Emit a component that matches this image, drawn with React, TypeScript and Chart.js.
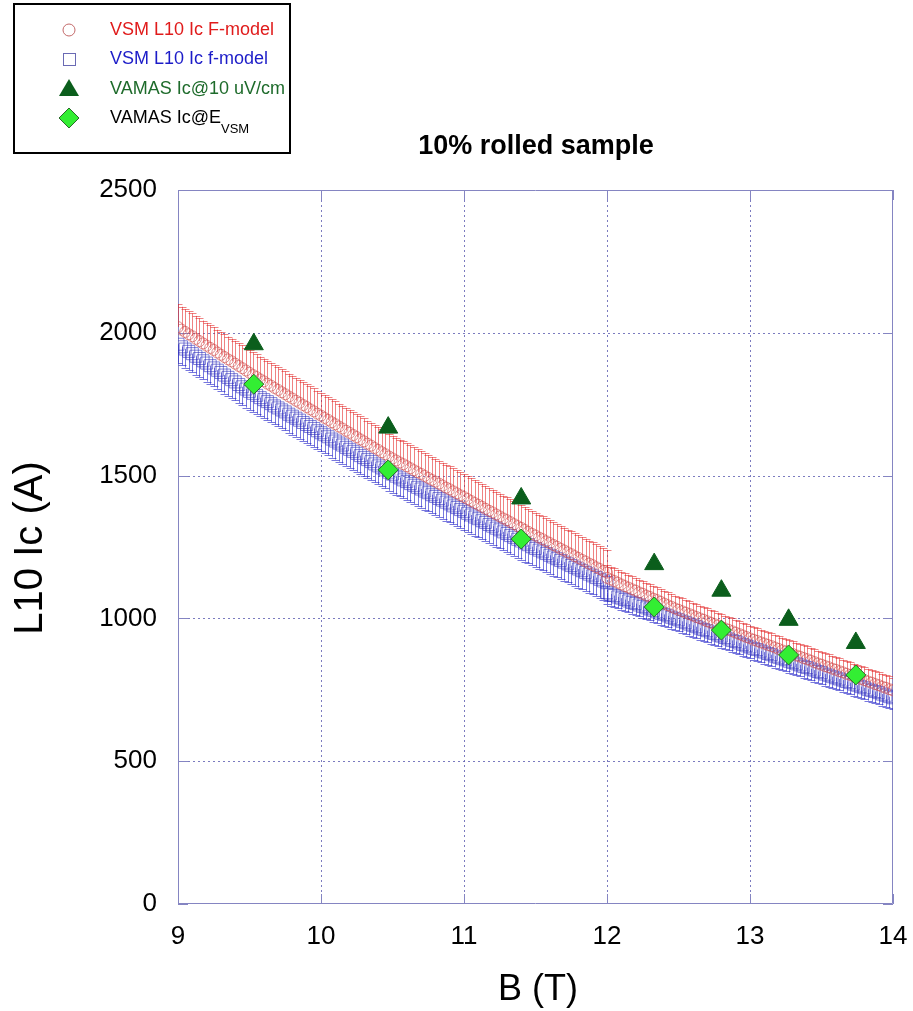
import React, { useEffect, useRef } from "react";
import { Chart, registerables } from "chart.js";

Chart.register(...registerables);

// ---- data ----
const B_SEG1 = [
  9.000, 9.025, 9.050, 9.075, 9.100, 9.125, 9.150, 9.175, 9.200, 9.225, 9.250, 9.275, 9.300, 9.325, 9.350, 9.375, 9.400, 9.425, 9.450, 9.475,
  9.500, 9.525, 9.550, 9.575, 9.600, 9.625, 9.650, 9.675, 9.700, 9.725, 9.750, 9.775, 9.800, 9.825, 9.850, 9.875, 9.900, 9.925, 9.950, 9.975,
  10.000, 10.025, 10.050, 10.075, 10.100, 10.125, 10.150, 10.175, 10.200, 10.225, 10.250, 10.275, 10.300, 10.325, 10.350, 10.375, 10.400, 10.425, 10.450, 10.475,
  10.500, 10.525, 10.550, 10.575, 10.600, 10.625, 10.650, 10.675, 10.700, 10.725, 10.750, 10.775, 10.800, 10.825, 10.850, 10.875, 10.900, 10.925, 10.950, 10.975,
  11.000, 11.025, 11.050, 11.075, 11.100, 11.125, 11.150, 11.175, 11.200, 11.225, 11.250, 11.275, 11.300, 11.325, 11.350, 11.375, 11.400, 11.425, 11.450, 11.475,
  11.500, 11.525, 11.550, 11.575, 11.600, 11.625, 11.650, 11.675, 11.700, 11.725, 11.750, 11.775, 11.800, 11.825, 11.850, 11.875, 11.900, 11.925, 11.950, 11.975,
  12.000,
];
const B_SEG2 = [
  12.000, 12.025, 12.050, 12.075, 12.100, 12.125, 12.150, 12.175, 12.200, 12.225, 12.250, 12.275, 12.300, 12.325, 12.350, 12.375, 12.400, 12.425, 12.450, 12.475,
  12.500, 12.525, 12.550, 12.575, 12.600, 12.625, 12.650, 12.675, 12.700, 12.725, 12.750, 12.775, 12.800, 12.825, 12.850, 12.875, 12.900, 12.925, 12.950, 12.975,
  13.000, 13.025, 13.050, 13.075, 13.100, 13.125, 13.150, 13.175, 13.200, 13.225, 13.250, 13.275, 13.300, 13.325, 13.350, 13.375, 13.400, 13.425, 13.450, 13.475,
  13.500, 13.525, 13.550, 13.575, 13.600, 13.625, 13.650, 13.675, 13.700, 13.725, 13.750, 13.775, 13.800, 13.825, 13.850, 13.875, 13.900, 13.925, 13.950, 13.975,
  14.000,
];

const F_MODEL_SEG1 = [
  2020, 2011, 2003, 1995, 1988, 1979, 1971, 1963, 1955, 1947, 1940, 1931, 1923, 1915, 1907, 1900, 1892, 1884, 1876, 1868,
  1860, 1852, 1845, 1837, 1830, 1822, 1815, 1807, 1800, 1792, 1785, 1777, 1770, 1762, 1755, 1747, 1740, 1732, 1725, 1717,
  1710, 1702, 1695, 1687, 1680, 1672, 1665, 1657, 1650, 1642, 1635, 1627, 1620, 1612, 1605, 1597, 1590, 1582, 1575, 1567,
  1560, 1553, 1546, 1540, 1533, 1526, 1519, 1512, 1506, 1499, 1492, 1485, 1479, 1472, 1465, 1458, 1452, 1445, 1438, 1431,
  1425, 1418, 1411, 1404, 1398, 1391, 1384, 1377, 1371, 1364, 1357, 1350, 1344, 1337, 1330, 1323, 1317, 1310, 1303, 1296,
  1290, 1283, 1277, 1270, 1264, 1257, 1251, 1244, 1238, 1231, 1225, 1218, 1212, 1205, 1199, 1192, 1186, 1179, 1173, 1166,
  1160,
];
const F_MODEL_SEG2 = [
  1142, 1136, 1131, 1125, 1119, 1113, 1108, 1102, 1097, 1091, 1086, 1080, 1075, 1069, 1064, 1058, 1052, 1046, 1041, 1035,
  1030, 1025, 1020, 1015, 1010, 1005, 1000, 995, 990, 985, 980, 975, 970, 965, 960, 955, 950, 945, 940, 935,
  930, 925, 921, 916, 912, 907, 903, 898, 893, 888, 884, 879, 875, 870, 866, 861, 857, 852, 847, 842,
  838, 833, 829, 824, 820, 815, 811, 806, 802, 797, 793, 788, 784, 779, 775, 770, 766, 761, 757, 752,
  748,
];
const f_MODEL_SEG1 = [
  1960, 1951, 1943, 1935, 1927, 1918, 1910, 1902, 1894, 1885, 1877, 1869, 1861, 1852, 1844, 1836, 1828, 1819, 1811, 1803,
  1795, 1788, 1781, 1773, 1766, 1759, 1752, 1744, 1737, 1730, 1723, 1715, 1708, 1701, 1694, 1686, 1679, 1672, 1665, 1657,
  1650, 1643, 1636, 1628, 1621, 1614, 1607, 1599, 1592, 1585, 1578, 1570, 1563, 1556, 1549, 1541, 1534, 1527, 1520, 1512,
  1505, 1498, 1492, 1485, 1479, 1472, 1466, 1459, 1453, 1446, 1440, 1433, 1427, 1420, 1414, 1407, 1401, 1394, 1388, 1381,
  1375, 1368, 1362, 1355, 1349, 1342, 1336, 1329, 1323, 1316, 1310, 1303, 1297, 1290, 1284, 1277, 1271, 1264, 1258, 1251,
  1245, 1239, 1233, 1227, 1221, 1215, 1209, 1203, 1197, 1191, 1185, 1179, 1173, 1167, 1161, 1155, 1149, 1143, 1137, 1131,
  1125,
];
const f_MODEL_SEG2 = [
  1090, 1085, 1080, 1075, 1071, 1066, 1061, 1056, 1052, 1047, 1042, 1037, 1033, 1028, 1023, 1018, 1014, 1009, 1004, 999,
  995, 990, 985, 980, 976, 971, 966, 961, 957, 952, 947, 942, 938, 933, 928, 923, 919, 914, 909, 904,
  900, 895, 891, 886, 882, 877, 873, 868, 864, 859, 855, 850, 846, 841, 837, 832, 828, 823, 819, 814,
  810, 805, 801, 796, 792, 788, 784, 779, 775, 770, 766, 761, 757, 752, 748, 744, 740, 735, 731, 726,
  722,
];

// error-bar lengths per segment (A): F-model upward, f-model downward
const F_MODEL_ERR = [80, 45];
const f_MODEL_ERR = [65, 40];

const VAMAS_B = [9.53, 10.47, 11.40, 12.33, 12.80, 13.27, 13.74];
const IC_10UV = [1960, 1668, 1420, 1190, 1097, 995, 914];
const IC_EVSM = [1820, 1520, 1278, 1040, 959, 872, 802];

const X_MIN = 9, X_MAX = 14, X_STEP = 1;
const Y_MIN = 0, Y_MAX = 2500, Y_STEP = 500;

const TITLE = "10% rolled sample";
const X_TITLE = "B (T)";
const Y_TITLE = "L10 Ic (A)";

const FONT = "'Liberation Sans', Arial, sans-serif";

const W = 913, H = 1011;

function segPoints(bs: number[][], vs: number[][], errs: number[]) {
  const out: { x: number; y: number; e: number }[] = [];
  bs.forEach((b, s) => b.forEach((x, i) => {
    if (vs[s][i] !== undefined) out.push({ x, y: vs[s][i], e: errs[s] });
  }));
  return out;
}

const errorBars = {
  id: "errorBars",
  beforeDatasetDraw(chart: any, args: any) {
    const ds = chart.data.datasets[args.index] as any;
    if (!ds.errDir) return;
    const ctx = chart.ctx;
    const ys = chart.scales.y;
    ctx.save();
    ctx.strokeStyle = ds.errColor;
    ctx.lineWidth = 1;
    const a = chart.chartArea;
    ctx.beginPath();
    ctx.rect(a.left, a.top, a.width, a.height);
    ctx.clip();
    args.meta.data.forEach((el: any, i: number) => {
      const raw = ds.data[i];
      const yEnd = ys.getPixelForValue(raw.y + ds.errDir * raw.e);
      const x = Math.round(el.x) + 0.5;
      ctx.beginPath();
      ctx.moveTo(x, el.y);
      ctx.lineTo(x, yEnd);
      ctx.moveTo(x - 4, Math.round(yEnd) + 0.5);
      ctx.lineTo(x + 4, Math.round(yEnd) + 0.5);
      ctx.stroke();
    });
    ctx.restore();
  },
};

const frame = {
  id: "frame",
  beforeDatasetsDraw(chart: any) {
    const { ctx, chartArea: a } = chart;
    const xs = chart.scales.x, ys = chart.scales.y;
    ctx.save();
    ctx.lineWidth = 1;
    ctx.strokeStyle = "rgba(100,100,180,0.85)";
    ctx.setLineDash([2, 3]);
    ctx.beginPath();
    xs.ticks.forEach((t: any) => {
      const px = Math.round(xs.getPixelForValue(t.value)) + 0.5;
      if (px <= a.left + 2 || px >= a.right - 2) return;
      ctx.moveTo(px, a.top);
      ctx.lineTo(px, a.bottom);
    });
    ys.ticks.forEach((t: any) => {
      const py = Math.round(ys.getPixelForValue(t.value)) + 0.5;
      if (py <= a.top + 2 || py >= a.bottom - 2) return;
      ctx.moveTo(a.left, py);
      ctx.lineTo(a.right, py);
    });
    ctx.stroke();
    ctx.setLineDash([]);
    ctx.strokeStyle = "#8585c2";
    ctx.beginPath();
    ctx.rect(Math.round(a.left) + 0.5, Math.round(a.top) + 0.5, Math.round(a.width) - 1, Math.round(a.height) - 1);
    xs.ticks.forEach((t: any) => {
      const px = Math.round(xs.getPixelForValue(t.value)) + 0.5;
      ctx.moveTo(px, a.bottom);
      ctx.lineTo(px, a.bottom - 10);
      ctx.moveTo(px, a.top);
      ctx.lineTo(px, a.top + 10);
    });
    ys.ticks.forEach((t: any) => {
      const py = Math.round(ys.getPixelForValue(t.value)) + 0.5;
      ctx.moveTo(a.left, py);
      ctx.lineTo(a.left + 10, py);
      ctx.moveTo(a.right, py);
      ctx.lineTo(a.right - 10, py);
    });
    ctx.stroke();
    ctx.restore();
  },
};

const texts = {
  id: "texts",
  afterDraw(chart: any) {
    const { ctx } = chart;
    ctx.save();
    ctx.fillStyle = "#000";
    ctx.textAlign = "center";
    ctx.textBaseline = "middle";
    ctx.font = `bold 27px ${FONT}`;
    ctx.fillText(TITLE, 536, 147);
    ctx.font = `36px ${FONT}`;
    ctx.fillText(X_TITLE, 538, 990);
    ctx.font = `40px ${FONT}`;
    ctx.translate(31, 548);
    ctx.rotate(-Math.PI / 2);
    ctx.fillText(Y_TITLE, 0, 0);
    ctx.restore();

    // legend
    ctx.save();
    ctx.fillStyle = "#fff";
    ctx.fillRect(14, 4, 276, 149);
    ctx.strokeStyle = "#000";
    ctx.lineWidth = 2;
    ctx.strokeRect(14, 4, 276, 149);
    const mx = 69, tx = 110;
    const rows = [30, 59, 89, 118];
    ctx.lineWidth = 1;
    ctx.strokeStyle = "#c46a6a";
    ctx.beginPath();
    ctx.arc(mx, rows[0], 6, 0, Math.PI * 2);
    ctx.stroke();
    ctx.strokeStyle = "#6a6ab4";
    ctx.strokeRect(mx - 6 + 0.5, rows[1] - 6 + 0.5, 12, 12);
    ctx.fillStyle = "#0b5e1c";
    ctx.beginPath();
    ctx.moveTo(mx, rows[2] - 10);
    ctx.lineTo(mx + 10, rows[2] + 7);
    ctx.lineTo(mx - 10, rows[2] + 7);
    ctx.closePath();
    ctx.fill();
    ctx.fillStyle = "#33ee33";
    ctx.strokeStyle = "#2a6a2a";
    ctx.beginPath();
    ctx.moveTo(mx, rows[3] - 10);
    ctx.lineTo(mx + 10, rows[3]);
    ctx.lineTo(mx, rows[3] + 10);
    ctx.lineTo(mx - 10, rows[3]);
    ctx.closePath();
    ctx.fill();
    ctx.stroke();

    ctx.textAlign = "left";
    ctx.textBaseline = "middle";
    ctx.font = `18px ${FONT}`;
    ctx.fillStyle = "#e01b1b";
    ctx.fillText("VSM L10 Ic F-model", tx, rows[0]);
    ctx.fillStyle = "#1c1cc8";
    ctx.fillText("VSM L10 Ic f-model", tx, rows[1]);
    ctx.fillStyle = "#1e6b2b";
    ctx.fillText("VAMAS Ic@10 uV/cm", tx, rows[2]);
    ctx.fillStyle = "#000";
    const main = "VAMAS Ic@E";
    ctx.fillText(main, tx, rows[3]);
    const w = ctx.measureText(main).width;
    ctx.font = `13px ${FONT}`;
    ctx.fillText("VSM", tx + w, rows[3] + 11);
    ctx.restore();
  },
};

export default function App() {
  const ref = useRef<HTMLCanvasElement | null>(null);
  useEffect(() => {
    if (!ref.current) return;
    const redData = segPoints([B_SEG1, B_SEG2], [F_MODEL_SEG1, F_MODEL_SEG2], F_MODEL_ERR);
    const blueData = segPoints([B_SEG1, B_SEG2], [f_MODEL_SEG1, f_MODEL_SEG2], f_MODEL_ERR);
    const chart = new Chart(ref.current, {
      type: "scatter",
      data: {
        datasets: [
          {
            label: "VAMAS Ic@EVSM",
            data: VAMAS_B.map((x, i) => ({ x, y: IC_EVSM[i] })),
            pointStyle: "rectRot",
            pointRadius: 10,
            backgroundColor: "#33ee33",
            borderColor: "#2a6a2a",
            borderWidth: 1,
          },
          {
            label: "VAMAS Ic@10 uV/cm",
            data: VAMAS_B.map((x, i) => ({ x, y: IC_10UV[i] })),
            pointStyle: "triangle",
            pointRadius: 11,
            backgroundColor: "#0b5e1c",
            borderColor: "#0b5e1c",
            borderWidth: 1,
          },
          {
            label: "VSM L10 Ic F-model",
            data: redData,
            pointStyle: "circle",
            pointRadius: 5.5,
            backgroundColor: "rgba(0,0,0,0)",
            borderColor: "rgba(205,70,70,0.6)",
            borderWidth: 1,
            errDir: 1,
            errColor: "rgba(225,30,30,0.55)",
          } as any,
          {
            label: "VSM L10 Ic f-model",
            data: blueData,
            pointStyle: "rect",
            pointRadius: 8.5,
            backgroundColor: "rgba(0,0,0,0)",
            borderColor: "rgba(50,50,190,0.6)",
            borderWidth: 1,
            errDir: -1,
            errColor: "rgba(30,30,200,0.6)",
          } as any,
        ],
      },
      options: {
        responsive: false,
        animation: false,
        events: [],
        layout: { padding: { left: 0, right: 20, top: 190, bottom: 0 } },
        plugins: {
          legend: { display: false },
          title: { display: false },
          tooltip: { enabled: false },
        },
        scales: {
          x: {
            type: "linear",
            min: X_MIN,
            max: X_MAX,
            grid: { display: false, drawTicks: false },
            border: { display: false },
            ticks: {
              stepSize: X_STEP,
              padding: 17,
              color: "#000",
              font: { family: FONT, size: 26 },
              maxRotation: 0,
              autoSkip: false,
              callback: (v: any) => String(v),
            },
            afterFit(scale: any) {
              scale.height = 107;
              scale.paddingLeft = 0;
              scale.paddingRight = 0;
            },
          },
          y: {
            type: "linear",
            min: Y_MIN,
            max: Y_MAX,
            grid: { display: false, drawTicks: false },
            border: { display: false },
            ticks: {
              stepSize: Y_STEP,
              padding: 21,
              color: "#000",
              font: { family: FONT, size: 26 },
              autoSkip: false,
              callback: (v: any) => String(v),
            },
            afterFit(scale: any) {
              scale.width = 178;
              scale.paddingTop = 0;
              scale.paddingBottom = 0;
            },
          },
        },
      },
      plugins: [frame, errorBars, texts],
    });
    return () => chart.destroy();
  }, []);
  return (
    <div style={{ position: "fixed", left: 0, top: 0, width: W, height: H, background: "#fff" }}>
      <canvas ref={ref} width={W} height={H} style={{ display: "block", width: W, height: H }} />
    </div>
  );
}
